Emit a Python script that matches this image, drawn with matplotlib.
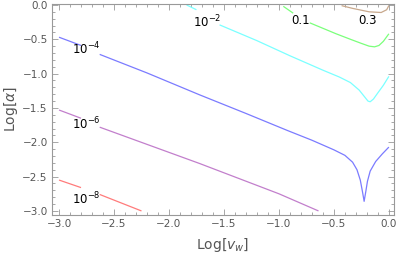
import matplotlib
matplotlib.use("Agg")
import matplotlib.pyplot as plt
from matplotlib.ticker import MultipleLocator

# contour levels and their labels
levels = ["1e-8", "1e-6", "1e-4", "1e-2", "0.1", "0.3"]
label_texts = [r"$10^{-8}$", r"$10^{-6}$", r"$10^{-4}$", r"$10^{-2}$", "0.1", "0.3"]
label_pos = [(-2.755, -2.83), (-2.755, -1.73), (-2.755, -0.64), (-1.65, -0.25), (-0.80, -0.22), (-0.19, -0.22)]
colors = ["#ff7b7b", "#c27fcc", "#7b7bff", "#7bffff", "#7bff7b", "#c8a88c"]

# contour segments (x = Log[v_w], y = Log[alpha])
red_x1 = [-3.0, -2.80]
red_y1 = [-2.55, -2.66]
red_x2 = [-2.63, -2.25]
red_y2 = [-2.76, -3.0]

purple_x1 = [-3.0, -2.80]
purple_y1 = [-1.53, -1.65]
purple_x2 = [-2.63, -1.72, -1.0, -0.64]
purple_y2 = [-1.78, -2.31, -2.75, -3.0]

blue_x1 = [-3.0, -2.80]
blue_y1 = [-0.47, -0.59]
blue_x2 = [-2.63, -2.2, -1.72, -1.3, -0.92, -0.7, -0.5, -0.4, -0.33, -0.29, -0.26,
           -0.24, -0.225, -0.21, -0.195, -0.17, -0.12, -0.06, 0.0]
blue_y2 = [-0.72, -0.99, -1.31, -1.58, -1.83, -1.97, -2.11, -2.19, -2.29, -2.40, -2.55,
           -2.72, -2.86, -2.72, -2.57, -2.42, -2.28, -2.17, -2.07]

cyan_x1 = [-1.84, -1.75]
cyan_y1 = [0.0, -0.07]
cyan_x2 = [-1.54, -1.2, -0.9, -0.6, -0.45, -0.35, -0.27, -0.22, -0.19, -0.17, -0.14,
           -0.1, -0.05, 0.0]
cyan_y2 = [-0.29, -0.52, -0.74, -0.95, -1.05, -1.13, -1.24, -1.34, -1.40, -1.41, -1.37,
           -1.28, -1.17, -1.04]

green_x1 = [-0.96, -0.87]
green_y1 = [-0.02, -0.12]
green_x2 = [-0.72, -0.6, -0.48, -0.35, -0.25, -0.18, -0.13, -0.09, -0.05, 0.0]
green_y2 = [-0.26, -0.34, -0.42, -0.50, -0.56, -0.60, -0.61, -0.59, -0.53, -0.42]

brown_x = [-0.43, -0.33, -0.18, -0.07, -0.02, 0.0]
brown_y = [-0.01, -0.05, -0.10, -0.11, -0.07, -0.01]

segments = [
    [(red_x1, red_y1), (red_x2, red_y2)],
    [(purple_x1, purple_y1), (purple_x2, purple_y2)],
    [(blue_x1, blue_y1), (blue_x2, blue_y2)],
    [(cyan_x1, cyan_y1), (cyan_x2, cyan_y2)],
    [(green_x1, green_y1), (green_x2, green_y2)],
    [(brown_x, brown_y)],
]

fig = plt.figure(figsize=(3.99, 2.61), dpi=100)
ax = fig.add_axes([0.130, 0.176, 0.857, 0.809])

for segs, c in zip(segments, colors):
    for xs, ys in segs:
        ax.plot(xs, ys, color=c, lw=0.9, solid_capstyle="butt")

for txt, (lx, ly) in zip(label_texts, label_pos):
    ax.text(lx, ly, txt, ha="center", va="center", fontsize=8.5, color="black")

ax.set_xlim(-3.065, 0.045)
ax.set_ylim(-3.06, 0.015)

gray = "#999999"
for s in ax.spines.values():
    s.set_color(gray)
    s.set_linewidth(0.8)

ax.xaxis.set_major_locator(MultipleLocator(0.5))
ax.xaxis.set_minor_locator(MultipleLocator(0.1))
ax.yaxis.set_major_locator(MultipleLocator(0.5))
ax.yaxis.set_minor_locator(MultipleLocator(0.1))
ax.tick_params(which="both", direction="in", top=True, right=True, color=gray, width=0.6)
ax.tick_params(which="major", length=4, labelsize=7.5, labelcolor="#555555", pad=3)
ax.tick_params(which="minor", length=2)
ax.xaxis.set_major_formatter(plt.FuncFormatter(lambda v, p: f"{v:.1f}".replace("-", "\u2212")))
ax.yaxis.set_major_formatter(plt.FuncFormatter(lambda v, p: f"{v:.1f}".replace("-", "\u2212")))

ax.set_xlabel(r"Log[$v_w$]", fontsize=10, color="#555555", labelpad=5)
ax.set_ylabel(r"Log[$\alpha$]", fontsize=10, color="#555555", labelpad=2)

fig.savefig("out.png", dpi=100)
